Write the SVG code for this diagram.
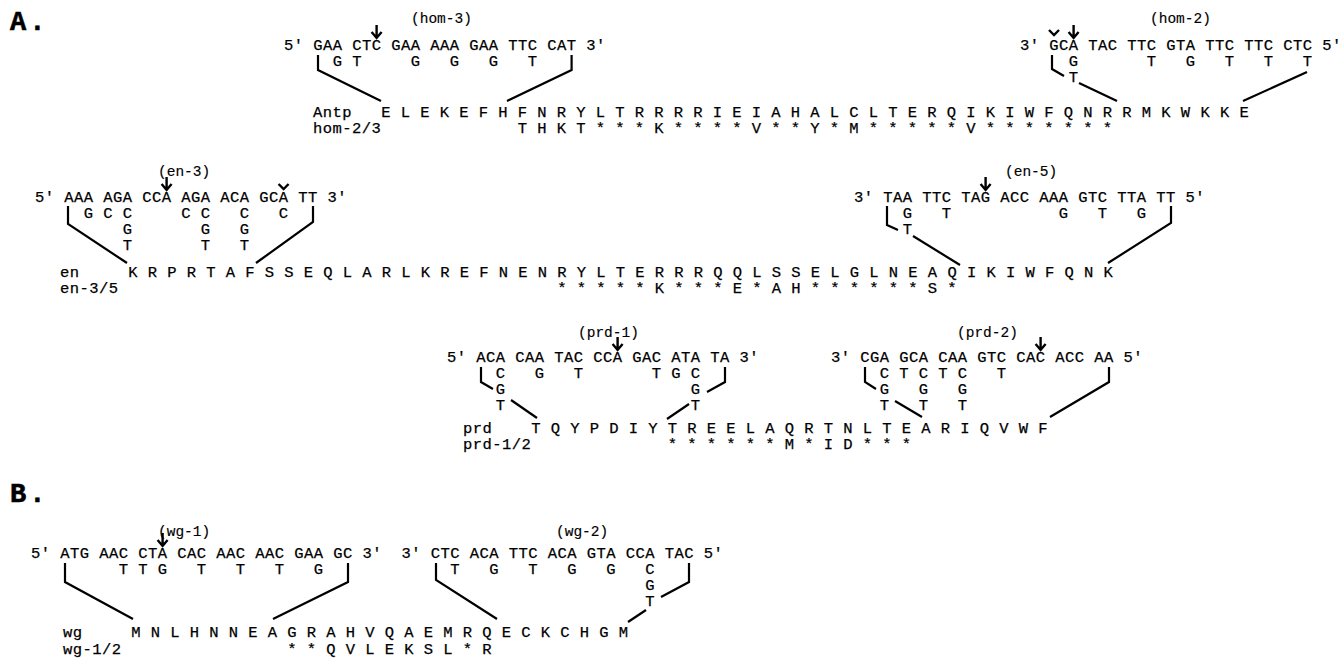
<svg xmlns="http://www.w3.org/2000/svg" width="1344" height="658" viewBox="0 0 1344 658" xml:space="preserve">
  <style>
    text { font-family: "Liberation Mono", "Courier New", monospace; fill: #000; white-space: pre; stroke: #000; stroke-width: 0.25; }
    .s { font-size: 15.5px; letter-spacing: 0.45px; }
    .lb { font-size: 14.5px; stroke-width: 0.15; }
    .hd { font-size: 27px; font-weight: bold; letter-spacing: 3px; stroke-width: 0.6; }
    .ln { stroke: #000; stroke-width: 2.2; fill: none; stroke-linejoin: miter; }
    .ar { stroke: #000; stroke-width: 2.4; fill: none; }
  </style>
  <defs>
    <!-- down arrow, tip at origin -->
    <path id="arrow" class="ar" d="M0,-13 V0 M-5,-6 L0,0 L5,-6"/>
    <!-- small caret mark, tip at origin -->
    <path id="caret" class="ar" d="M-5,-5 L0,0 L5,-5"/>
  </defs>
  <rect width="1344" height="658" fill="#fff"/>

  <!-- panel A -->
  <g id="label-A"><text class="hd" x="10" y="30">A.</text></g>

  <g id="hom-3">
    <text class="lb" x="411" y="23">(hom-3)</text>
    <use href="#arrow" x="376.6" y="38"/>
    <text class="s" x="284" y="50">5' GAA CTC GAA AAA GAA TTC CAT 3'</text>
    <text class="s" x="284" y="66">     G T     G   G   G   T</text>
  </g>

  <g id="hom-2">
    <text class="lb" x="1150" y="23">(hom-2)</text>
    <use href="#caret" x="1054" y="35"/>
    <use href="#arrow" x="1073.6" y="38"/>
    <text class="s" x="1020" y="50">3' GCA TAC TTC GTA TTC TTC CTC 5'</text>
    <text class="s" x="1020" y="66">     G       T   G   T   T   T</text>
    <text class="s" x="1020" y="82">     T</text>
  </g>

  <g id="antp">
    <text class="s" x="313" y="117">Antp</text>
    <text class="s" x="381.25" y="117">E L E K E F H F N R Y L T R R R R I E I A H A L C L T E R Q I K I W F Q N R R M K W K K E</text>
    <text class="s" x="313" y="133">hom-2/3</text>
    <text class="s" x="517.75" y="133">T H K T * * * K * * * * V * * Y * M * * * * * V * * * * * * *</text>
  </g>

  <g id="en-3">
    <text class="lb" x="158" y="176">(en-3)</text>
    <use href="#arrow" x="166.6" y="190"/>
    <use href="#caret" x="283.6" y="189"/>
    <text class="s" x="35" y="202">5' AAA AGA CCA AGA ACA GCA TT 3'</text>
    <text class="s" x="35" y="218">     G C C     C C   C   C</text>
    <text class="s" x="35" y="234">         G       G   G</text>
    <text class="s" x="35" y="250">         T       T   T</text>
  </g>

  <g id="en-5">
    <text class="lb" x="1005" y="176">(en-5)</text>
    <use href="#arrow" x="985.6" y="190"/>
    <text class="s" x="854" y="202">3' TAA TTC TAG ACC AAA GTC TTA TT 5'</text>
    <text class="s" x="854" y="218">     G   T           G   T   G</text>
    <text class="s" x="854" y="234">     T</text>
  </g>

  <g id="en">
    <text class="s" x="60" y="277">en</text>
    <text class="s" x="128.25" y="277">K R P R T A F S S E Q L A R L K R E F N E N R Y L T E R R R Q Q L S S E L G L N E A Q I K I W F Q N K</text>
    <text class="s" x="60" y="293">en-3/5</text>
    <text class="s" x="557.25" y="293">* * * * * K * * * E * A H * * * * * * S *</text>
  </g>

  <g id="prd-1">
    <text class="lb" x="578" y="337">(prd-1)</text>
    <use href="#arrow" x="617.6" y="350"/>
    <text class="s" x="447" y="362">5' ACA CAA TAC CCA GAC ATA TA 3'</text>
    <text class="s" x="447" y="378">     C   G   T       T G C</text>
    <text class="s" x="447" y="394">     G                   G</text>
    <text class="s" x="447" y="410">     T                   T</text>
  </g>

  <g id="prd-2">
    <text class="lb" x="957" y="337">(prd-2)</text>
    <use href="#arrow" x="1040.6" y="350"/>
    <text class="s" x="831" y="362">3' CGA GCA CAA GTC CAC ACC AA 5'</text>
    <text class="s" x="831" y="378">     C T C T C   T</text>
    <text class="s" x="831" y="394">     G   G   G</text>
    <text class="s" x="831" y="410">     T   T   T</text>
  </g>

  <g id="prd">
    <text class="s" x="463" y="433">prd</text>
    <text class="s" x="531.25" y="433">T Q Y P D I Y T R E E L A Q R T N L T E A R I Q V W F</text>
    <text class="s" x="463" y="449">prd-1/2</text>
    <text class="s" x="667.75" y="449">* * * * * * M * I D * * *</text>
  </g>

  <!-- panel B -->
  <g id="label-B"><text class="hd" x="10" y="502">B.</text></g>

  <g id="wg-1">
    <text class="lb" x="158" y="536">(wg-1)</text>
    <use href="#arrow" x="162.6" y="546"/>
    <text class="s" x="31" y="558">5' ATG AAC CTA CAC AAC AAC GAA GC 3'</text>
    <text class="s" x="31" y="574">         T T G   T   T   T   G</text>
  </g>

  <g id="wg-2">
    <text class="lb" x="556" y="536">(wg-2)</text>
    <text class="s" x="401.5" y="558">3' CTC ACA TTC ACA GTA CCA TAC 5'</text>
    <text class="s" x="401.5" y="574">     T   G   T   G   G   C</text>
    <text class="s" x="401.5" y="590">                         G</text>
    <text class="s" x="401.5" y="606">                         T</text>
  </g>

  <g id="wg">
    <text class="s" x="63" y="637">wg</text>
    <text class="s" x="131.25" y="637">M N L H N N E A G R A H V Q A E M R Q E C K C H G M</text>
    <text class="s" x="63" y="654">wg-1/2</text>
    <text class="s" x="287.25" y="654">* * Q V L E K S L * R</text>
  </g>

  <g id="connectors">
    <!-- hom-3 -->
    <polyline class="ln" points="318,55 318,70 381,101"/>
    <polyline class="ln" points="571.6,55 571.6,70 507,101"/>
    <!-- hom-2 -->
    <polyline class="ln" points="1052,55 1052,69 1064,76"/>
    <line class="ln" x1="1079" y1="83" x2="1117" y2="101"/>
    <line class="ln" x1="1307" y1="72" x2="1243" y2="101"/>
    <!-- en-3 -->
    <polyline class="ln" points="68,206 68,224 127,263"/>
    <polyline class="ln" points="313,206 313,222 256,263"/>
    <!-- en-5 -->
    <polyline class="ln" points="887,206 887,225 898,230"/>
    <line class="ln" x1="913" y1="236" x2="960" y2="265"/>
    <polyline class="ln" points="1171,206 1171,223 1108,263"/>
    <!-- prd-1 -->
    <polyline class="ln" points="481,367 481,382 493,389"/>
    <line class="ln" x1="511" y1="400" x2="537" y2="418"/>
    <polyline class="ln" points="725,367 725,382 707,392"/>
    <line class="ln" x1="689" y1="404" x2="667" y2="419"/>
    <!-- prd-2 -->
    <polyline class="ln" points="865,367 865,382 876,389"/>
    <line class="ln" x1="895" y1="401" x2="922" y2="417"/>
    <polyline class="ln" points="1109,367 1109,382 1050,417"/>
    <!-- wg-1 -->
    <polyline class="ln" points="65,563 65,582 133,619"/>
    <polyline class="ln" points="348,563 348,582 273,619"/>
    <!-- wg-2 -->
    <polyline class="ln" points="436,563 436,580 497,619"/>
    <polyline class="ln" points="689,563 689,582 661,597"/>
    <line class="ln" x1="646" y1="610" x2="628" y2="622"/>
  </g>
</svg>
